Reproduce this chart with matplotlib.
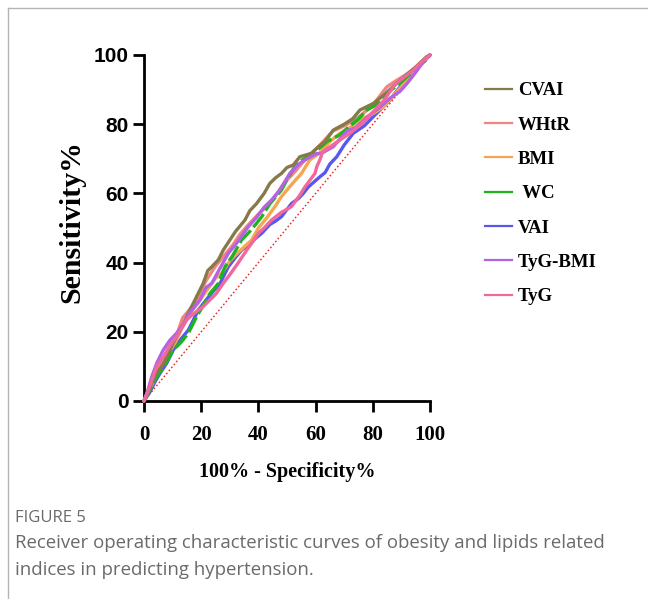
import matplotlib
matplotlib.use("Agg")
import matplotlib.pyplot as plt
from matplotlib.lines import Line2D

# ---- data ----
names = ["CVAI", "WHtR", "BMI", " WC", "VAI", "TyG-BMI", "TyG"]
colors = ["#857A48", "#F2857F", "#F5A64E", "#1DB51D", "#5858EE", "#B463E3", "#F0689C"]

cvai_x = [0,1.5,4,7,10,13.7,15.5,17.8,20.7,22.3,23.7,26,27.7,30,32,35.3,37,39.4,42,44,46,48.1,50,52.2,54.5,58.6,61,63.3,66.2,70,73,75.5,80.2,84,88.3,92,95,98.8,100]
cvai_y = [0,3,7.5,11,16.5,22,25.3,29.2,34,37.7,38.8,40.8,43.6,46.5,49,52.3,55,57.1,60,62.9,64.5,65.8,67.5,68.2,70.6,71.6,73.5,75,78.3,80,81.6,84.1,86,88.5,91.8,94.5,96.5,99.5,100]

whtr_x = [0,2,5,8,11,13.5,16,19,21.7,25,28,31,33.4,36,40,45,49,53,57,61,66,70,75,80,84.9,88,93,97,100]
whtr_y = [0,4,9,13,18,24,26.5,30,34.8,39,42,45,48,50.5,54,58,63,66.5,70.5,73.5,78,79.5,82,85.5,90.8,92.5,95,98,100]

bmi_x = [0,2,5,8,11,13.5,15.8,19,22,25,27.2,30,33,37.6,40,43,45.8,48,51,55.1,58,62,65,68.5,72,76,80,83.7,88,93,96,100]
bmi_y = [0,3.5,8.5,13,17,21.5,25,28.5,32,35.5,36.9,40.5,43,46.5,50,53,56.2,59,62,65.8,69.7,72,75,77.4,79,81.5,83,85,89,93.7,96.5,100]

wc_x = [0,2,4,7,10.2,13,15.5,18.4,21,23,26,28.3,31,34.1,37,39,41.2,44,48.1,50,53.4,57,60,64,68.5,72,75,77.9,81,84.9,89,93,96,98.8,100]
wc_y = [0,3,6.5,10,14.7,17,19.6,24.4,28,31,34,38.8,42,46.5,49,51,53.3,57,61,64,68.7,70.5,72,75,76.9,79.5,81.5,84.1,85.5,88.9,91.5,94.5,97,98.6,100]

vai_x = [0,2,4,5.6,8,10.2,13,15.5,17,19,22,24,26.6,29.5,32,34.1,37,39,41.2,44,46,48.1,51.6,54,55.7,57.5,61.5,63.3,65,67.4,70,73.2,77,80.2,83,86,89.5,93,96,100]
vai_y = [0,2.5,5.8,8,11,14.7,18,20.5,23,26.3,29.5,31.5,34,38.8,41.5,43.6,45.5,47,48.5,51,52,53.3,57.1,58.5,60,61.9,64.8,66,68.5,70.6,74,77.4,79.5,82.2,84.5,87,90.8,93.5,96.5,100]

tygbmi_x = [0,1.5,2.7,4.5,6.7,9,11.4,14,16,19.6,21.7,23.7,26,29.5,32.2,34,36.5,39.3,42,44.6,47.5,51,53,54.5,57,60.4,62.1,66.2,70.9,74,78,82.6,86,89.5,92,95,98,100]
tygbmi_y = [0,3.5,7,11,14.7,17.5,19.6,22.5,25.5,29.2,32.8,34,37.5,42.7,45.4,47.5,50.4,53,56,58.1,61,65.8,67.5,68.7,70,71.5,71.6,73.5,78,79,82,85,87.5,89.5,91.8,95,98.5,100]

tyg_x = [0,1.5,4.4,7,9,11.4,14.9,17,20.7,24,25.2,27.7,30,33,35.9,38,40,42,44.6,48,51.6,54.5,56.3,59.8,60.4,61.5,62.5,66,72,76,80,84,87.3,90,94,97,100]
tyg_y = [0,3,9.9,13,16,18.6,23.4,25,27.3,30,31,34,36.5,40,43.6,46,48.5,50,52.3,54.5,56.2,59.5,61.9,65.8,67.7,69.7,72,74,77.4,80,83.5,87,91,93,95.5,98,100]

ref_x = [0, 100]
ref_y = [0, 100]

xticks = [0, 20, 40, 60, 80, 100]
yticks = [0, 20, 40, 60, 80, 100]

series = [(cvai_x, cvai_y), (whtr_x, whtr_y), (bmi_x, bmi_y), (wc_x, wc_y),
          (vai_x, vai_y), (tygbmi_x, tygbmi_y), (tyg_x, tyg_y)]
zorders = [6, 4, 3, 5, 2, 7, 8]
styles = ["-", "-", "-", (0, (5, 1.2)), "-", "-", "-"]

# ---- figure ----
fig = plt.figure(figsize=(6.48, 5.99), dpi=100)
ax = fig.add_axes([144/648, 1 - 401/599, 286/648, 346/599])

ax.plot(ref_x, ref_y, color="#E82828", lw=1.0, ls=(0, (1.2, 1.6)), zorder=1, clip_on=False)
handles = []
for (xs, ys), name, c, z, st in zip(series, names, colors, zorders, styles):
    ax.plot(xs, ys, color=c, lw=2.4, ls=st, zorder=z, clip_on=False,
            solid_joinstyle="round", solid_capstyle="round")
    handles.append(Line2D([0], [0], color=c, lw=1.6))

ax.set_xlim(0, 100)
ax.set_ylim(0, 100)
ax.set_xticks(xticks)
ax.set_yticks(yticks)
for s in ["top", "right"]:
    ax.spines[s].set_visible(False)
for s in ["left", "bottom"]:
    ax.spines[s].set_linewidth(2.0)
    ax.spines[s].set_color("black")
ax.tick_params(axis="both", direction="out", length=8, width=2.0, color="black")
ax.tick_params(axis="x", pad=9)
ax.tick_params(axis="y", pad=3)
ax.set_xticklabels([str(t) for t in xticks], family="Liberation Serif",
                   fontweight="bold", fontsize=15)
ax.set_yticklabels([str(t) for t in yticks], family="Liberation Sans",
                   fontweight="bold", fontsize=15)

fig.text(287/648, 1 - 472/599, "100% - Specificity%", family="Liberation Serif",
         fontweight="bold", fontsize=14.5, ha="center", va="center")
fig.text(72/648, 1 - 222/599, "Sensitivity%", family="Liberation Serif",
         fontweight="bold", fontsize=21.5, ha="center", va="center", rotation=90)

leg = ax.legend(handles, names, loc="upper left", bbox_to_anchor=(485/648, 1 - 82/599),
                bbox_transform=fig.transFigure, frameon=False, handlelength=1.45,
                handletextpad=0.3, labelspacing=0.92, borderaxespad=0, borderpad=0,
                prop={"family": "Liberation Serif", "weight": "bold", "size": 13.5})

# ---- page frame and caption ----
fig.add_artist(Line2D([8/648, 1], [1 - 8/599, 1 - 8/599], transform=fig.transFigure,
                      color="#B4B4B4", lw=1.0))
fig.add_artist(Line2D([8/648, 8/648], [0, 1 - 8/599], transform=fig.transFigure,
                      color="#B4B4B4", lw=1.0))
fig.text(15/648, 1 - 518/599, "FIGURE 5", family="Open Sans", fontsize=12,
         color="#6A6A6A", ha="left", va="center")
fig.text(15/648, 1 - 543/599, "Receiver operating characteristic curves of obesity and lipids related",
         family="Open Sans", fontsize=13.4, color="#6A6A6A", ha="left", va="center")
fig.text(15/648, 1 - 570/599, "indices in predicting hypertension.",
         family="Open Sans", fontsize=13.4, color="#6A6A6A", ha="left", va="center")

fig.savefig("out.png", dpi=100)
